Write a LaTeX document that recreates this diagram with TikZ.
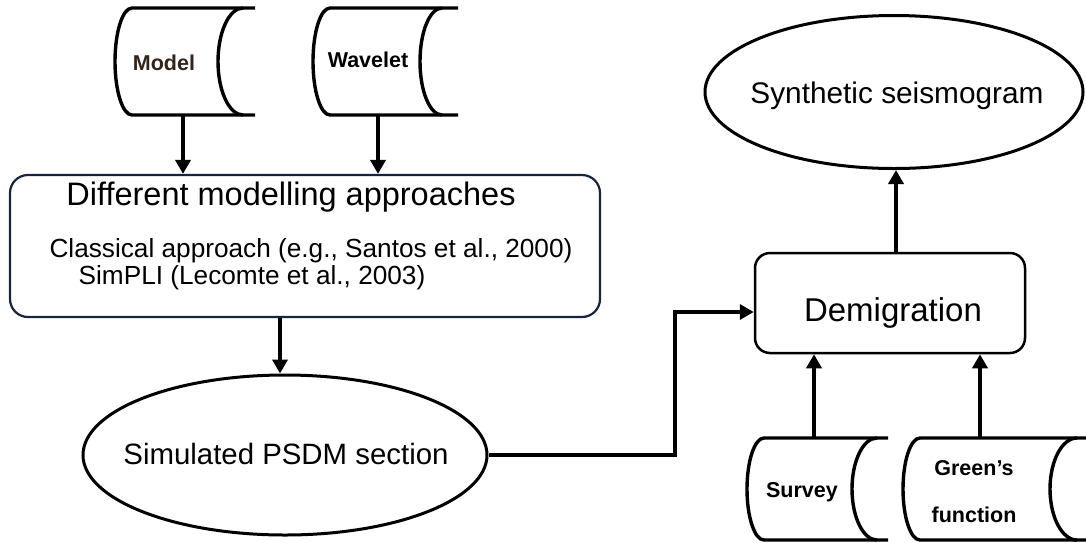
\documentclass[tikz,border=0pt]{standalone}
\usepackage{fontspec}
\setmainfont{Liberation Sans}
\usetikzlibrary{arrows.meta,shapes.geometric}
\definecolor{navy}{RGB}{22,36,62}
\definecolor{modelbrown}{RGB}{52,36,24}
\begin{document}
\begin{tikzpicture}[x=1pt,y=-1pt,
  store/.style={line width=3.4pt, line join=round},
  arr/.style={line width=4pt, -{Triangle[width=15pt,length=14pt]}},
  lbl/.style={font=\fontsize{21.5}{25}\selectfont\bfseries, anchor=base, inner sep=0},
  txt/.style={anchor=base, inner sep=0},
  hold/.style={inner sep=0, outer sep=0, draw=none}]
\useasboundingbox (0,0) rectangle (1086,542);

% data-store shapes (invisible nodes carry the names)
\node[hold, minimum width=140pt, minimum height=107pt] (model) at (185,61.5) {};
\draw[store] (255,8) -- (132,8) arc[start angle=270, end angle=90, x radius=17, y radius=53.5] -- (255,115);
\draw[store] (243,8) arc[start angle=270, end angle=90, x radius=25, y radius=53.5];

\node[hold, minimum width=145pt, minimum height=107pt] (wavelet) at (385.5,61.5) {};
\draw[store] (458,8) -- (330,8) arc[start angle=270, end angle=90, x radius=17, y radius=53.5] -- (458,115);
\draw[store] (442,8) arc[start angle=270, end angle=90, x radius=22, y radius=53.5];

\node[hold, minimum width=141pt, minimum height=102pt] (survey) at (817.5,489) {};
\draw[store] (888,438) -- (764,438) arc[start angle=270, end angle=90, x radius=17, y radius=51] -- (888,540);
\draw[store] (877,438) arc[start angle=270, end angle=90, x radius=25, y radius=51];

\node[hold, minimum width=183pt, minimum height=102pt] (greens) at (994.5,489) {};
\draw[store] (1086,438) -- (920,438) arc[start angle=270, end angle=90, x radius=17, y radius=51] -- (1086,540);
\draw[store] (1077,438) arc[start angle=270, end angle=90, x radius=27, y radius=51];

% boxes and ellipses
\node[draw=navy, line width=2.2pt, rounded corners=18pt, minimum width=590pt, minimum height=142pt, inner sep=0] (diff) at (305,246) {};
\node[draw, line width=2.5pt, rounded corners=15pt, minimum width=270pt, minimum height=100pt, inner sep=0] (demig) at (890,303) {};
\node[draw, ellipse, line width=3pt, minimum width=404pt, minimum height=160pt, inner sep=0] (psdm) at (285,455) {};
\node[draw, ellipse, line width=3pt, minimum width=378pt, minimum height=153pt, inner sep=0] (synth) at (894,92) {};

% texts
\node[lbl, text=modelbrown] (modeltxt) at (164,70) {Model};
\node[lbl] (wavetxt) at (368,67) {Wavelet};
\node[lbl] (survtxt) at (802,497) {Survey};
\node[lbl] (greentxt) at (974,475) {Green’s};
\node[lbl] (functxt) at (974,522) {function};
\node[txt, font=\fontsize{32.5}{38}\selectfont] (title) at (291,205) {Different modelling approaches};
\node[txt, font=\fontsize{26.2}{31}\selectfont] (classical) at (311,257) {Classical approach (e.g., Santos et al., 2000)};
\node[txt, font=\fontsize{26.2}{31}\selectfont] (simpli) at (252,284) {SimPLI (Lecomte et al., 2003)};
\node[txt, font=\fontsize{29.4}{34}\selectfont] (psdmtxt) at (286,464) {Simulated PSDM section};
\node[txt, font=\fontsize{29.8}{35}\selectfont] (synthtxt) at (897,103) {Synthetic seismogram};
\node[txt, font=\fontsize{33}{39}\selectfont] (demigtxt) at (893,321) {Demigration};

% connectors
\draw[arr] ([xshift=-2pt]model.south) -- ([xshift=-2pt]model.south |- diff.north);
\draw[arr] ([xshift=-7.5pt]wavelet.south) -- ([xshift=-7.5pt]wavelet.south |- diff.north);
\draw[arr] ([xshift=-25pt]diff.south) -- ([xshift=-25pt]diff.south |- psdm.north);
\coordinate (bend) at (675,455);
\draw[arr] (psdm.east) -- (bend) |- ([yshift=-9pt]demig.west);
\draw[arr] ([xshift=6pt]demig.north) -- ([xshift=6pt]demig.north |- synth.south);
\draw[arr] ([xshift=-3.5pt]survey.north) -- ([xshift=-3.5pt]survey.north |- demig.south);
\draw[arr] ([xshift=-14.5pt]greens.north) -- ([xshift=-14.5pt]greens.north |- demig.south);
\end{tikzpicture}
\end{document}
